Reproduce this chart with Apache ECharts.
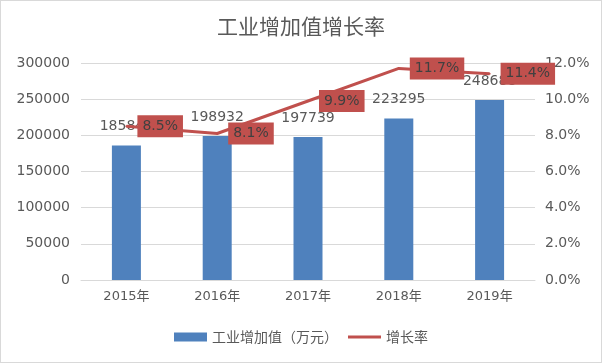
<!DOCTYPE html>
<html><head><meta charset="utf-8">
<script src="https://cdn.jsdelivr.net/npm/echarts@6/dist/echarts.min.js"></script>
<style>html,body{margin:0;padding:0;background:#fff}#c{width:600px;height:361px;border:1px solid #d9d9d9}</style>
</head><body><div id="c"></div>
<script>
const categories = ['2015年','2016年','2017年','2018年','2019年'];
const valueAdded = [185840, 198932, 197739, 223295, 248688];
const growthRate = [8.5, 8.1, 9.9, 11.7, 11.4];
const seriesNames = ['工业增加值（万元）', '增长率'];
const chart = echarts.init(document.getElementById('c'));
const font = '"Noto Sans CJK SC", sans-serif';
const numFont = '"DejaVu Sans", "Noto Sans CJK SC", sans-serif';
chart.setOption({
  animation: false,
  textStyle: {fontFamily: font},
  title: {text: '工业增加值增长率', left: 'center', top: 10,
    textStyle: {fontSize: 21, fontWeight: 'normal', color: '#595959', fontFamily: font}},
  grid: {left: 80, right: 66, top: 62, bottom: 82},
  legend: {bottom: 13, left: 'center', itemWidth: 33, itemHeight: 9, itemGap: 10,
    textStyle: {fontSize: 14, color: '#595959', fontFamily: font},
    data: [{name: seriesNames[0], icon: 'rect'},
           {name: seriesNames[1], icon: 'path://M0,0 H33 V3 H0 Z'}]},
  xAxis: {type: 'category', data: categories,
    axisLine: {lineStyle: {color: '#d9d9d9'}}, axisTick: {show: false},
    axisLabel: {color: '#595959', fontSize: 13, margin: 10, fontFamily: numFont}},
  yAxis: [
    {type: 'value', min: 0, max: 300000, interval: 50000,
     axisLine: {show: false}, axisTick: {show: false},
     splitLine: {lineStyle: {color: '#d9d9d9'}},
     axisLabel: {color: '#595959', fontSize: 14, margin: 11, fontFamily: numFont,
       formatter: v => String(v)}},
    {type: 'value', min: 0, max: 12, interval: 2,
     axisLine: {show: false}, axisTick: {show: false}, splitLine: {show: false},
     axisLabel: {color: '#595959', fontSize: 14, margin: 10, fontFamily: numFont,
       formatter: v => v.toFixed(1) + '%'}}
  ],
  series: [
    {name: seriesNames[0], type: 'bar', data: valueAdded, barWidth: 29,
     itemStyle: {color: '#4F81BD'},
     label: {show: true, position: 'top', distance: 12, color: '#595959', fontSize: 14,
       fontFamily: numFont}},
    {name: seriesNames[1], type: 'line', yAxisIndex: 1, data: growthRate,
     symbol: 'circle', symbolSize: 2, z: 5,
     lineStyle: {color: '#C0504D', width: 3}, itemStyle: {color: '#C0504D'},
     label: {show: true, position: 'right', distance: 10, color: '#404040', fontSize: 14,
       fontFamily: numFont, backgroundColor: '#C0504D', padding: [4, 5, 4, 5],
       formatter: p => p.value.toFixed(1) + '%'}}
  ]
});
</script></body></html>
